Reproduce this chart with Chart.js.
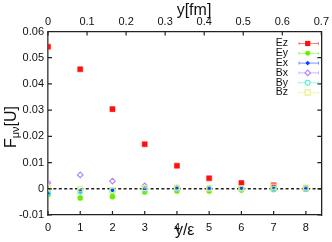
<!DOCTYPE html>
<html><head><meta charset="utf-8">
<script src="https://cdn.jsdelivr.net/npm/chart.js@4/dist/chart.umd.min.js"></script>
<style>html,body{margin:0;padding:0;background:#fff;}canvas{display:block;}</style>
</head><body>
<canvas id="c" width="332" height="242"></canvas>
<script>
const xVals = [0,1,2,3,4,5,6,7,8];
const ezVals = [0.0542,0.0456,0.0304,0.0170,0.0088,0.0040,0.0022,0.0013,0.0001];
const eyVals = [-0.0022,-0.0035,-0.0030,-0.0012,-0.0008,-0.0008,-0.0005,-0.0003,0.0000];
const exVals = [-0.0020,-0.0010,-0.0005,0.0000,0.0003,0.0003,0.0005,0.0005,0.0000];
const bxVals = [0.0023,0.0053,0.0029,0.0011,0.0003,0.0002,0.0002,0.0002,0.0001];
const byVals = [-0.0015,-0.0010,-0.0008,-0.0003,0.0000,0.0000,0.0000,0.0000,0.0000];
const bzVals = [0.0005,-0.0002,-0.0005,0.0003,0.0005,0.0002,0.0002,0.0008,0.0005];
const yTicks = [-0.01,0,0.01,0.02,0.03,0.04,0.05,0.06];
const fmTicks = [0,0.1,0.2,0.3,0.4,0.5,0.6,0.7];
const xMax = 8.48, fmMax = 0.7;

const pts = v => xVals.map((x,i)=>({x:x,y:v[i]}));
const series = [
  {label:'Ez', data:ezVals, color:'#ff1010', style:'rect', fill:true, r:3.6},
  {label:'Ey', data:eyVals, color:'#66ee00', style:'circle', fill:true, r:2.6},
  {label:'Ex', data:exVals, color:'#1040ff', style:'rectRot', fill:true, r:2.4},
  {label:'Bx', data:bxVals, color:'#b080ff', style:'rectRot', fill:false, r:2.8},
  {label:'By', data:byVals, color:'#50f0d0', style:'circle', fill:false, r:2.6},
  {label:'Bz', data:bzVals, color:'#eeee80', style:'rect', fill:false, r:3.6}
];
const datasets = [{
  type:'line', label:'zero', data:[{x:0,y:0},{x:xMax,y:0}],
  borderColor:'#222', borderWidth:1.6, borderDash:[3,2.4], pointRadius:0, fill:false, order:10
}];
series.slice().reverse().forEach(s=>{
  datasets.push({type:'scatter', label:s.label, data:pts(s.data),
    pointStyle:s.style, pointRadius:s.r, pointHoverRadius:s.r,
    backgroundColor: s.fill? s.color : 'rgba(255,255,255,0)',
    borderColor:s.color, borderWidth: s.fill?0.5:1.1});
});

const FONT = '"Liberation Sans", Arial, sans-serif';
const fmtY = v => String(Math.round(v*1000)/1000);

const decor = {
  id:'decor',
  afterDraw(chart){
    const ctx = chart.ctx, a = chart.chartArea;
    ctx.save();
    ctx.strokeStyle = '#222'; ctx.lineWidth = 1.2;
    const L = 4;
    const sy = chart.scales.y, sx = chart.scales.x, sx2 = chart.scales.x2;
    yTicks.forEach(v=>{
      const p = sy.getPixelForValue(v);
      ctx.beginPath(); ctx.moveTo(a.left,p); ctx.lineTo(a.left+L,p);
      ctx.moveTo(a.right,p); ctx.lineTo(a.right-L,p); ctx.stroke();
    });
    xVals.forEach(v=>{
      const p = sx.getPixelForValue(v);
      ctx.beginPath(); ctx.moveTo(p,a.bottom); ctx.lineTo(p,a.bottom-L); ctx.stroke();
    });
    fmTicks.forEach(v=>{
      const p = sx2.getPixelForValue(v);
      ctx.beginPath(); ctx.moveTo(p,a.top); ctx.lineTo(p,a.top+L); ctx.stroke();
    });
    ctx.fillStyle = '#111';
    ctx.font = '16px ' + FONT;
    ctx.textBaseline = 'middle'; ctx.textAlign = 'center';
    ctx.fillText('y/ε', (a.left+a.right)/2, 231);
    ctx.fillText('y[fm]', 194, 11);
    ctx.save();
    ctx.translate(12, 127); ctx.rotate(-Math.PI/2);
    ctx.textAlign = 'left';
    const f1 = '16px ' + FONT, f2 = '11px ' + FONT;
    ctx.font = f1; const wF = ctx.measureText('F').width;
    ctx.font = f2; const wS = ctx.measureText('μν').width;
    ctx.font = f1; const wU = ctx.measureText('[U]').width;
    let x0 = -(wF+wS+wU)/2;
    ctx.font = f1; ctx.fillText('F', x0, 0);
    ctx.font = f2; ctx.fillText('μν', x0+wF, 4);
    ctx.font = f1; ctx.fillText('[U]', x0+wF+wS, 0);
    ctx.restore();
    ctx.font = '10.5px ' + FONT;
    ctx.textAlign = 'right'; ctx.textBaseline = 'middle';
    series.forEach((s,i)=>{
      const yy = 43.5 + i*9.8;
      ctx.fillStyle = '#111';
      ctx.fillText(s.label, 288, yy);
      const cx = 307.7;
      ctx.strokeStyle = s.color; ctx.lineWidth = 1;
      ctx.globalAlpha = 0.55;
      ctx.beginPath(); ctx.moveTo(299,yy); ctx.lineTo(318.5,yy);
      ctx.moveTo(299,yy-1.5); ctx.lineTo(299,yy+1.5);
      ctx.moveTo(318.5,yy-1.5); ctx.lineTo(318.5,yy+1.5); ctx.stroke();
      ctx.globalAlpha = 1;
      ctx.beginPath();
      const r = s.r;
      if (s.style==='rect'){ const h=r*0.72; ctx.rect(cx-h,yy-h,2*h,2*h); }
      else if (s.style==='circle'){ ctx.arc(cx,yy,r*0.95,0,Math.PI*2); }
      else { ctx.moveTo(cx,yy-r); ctx.lineTo(cx+r,yy); ctx.lineTo(cx,yy+r); ctx.lineTo(cx-r,yy); ctx.closePath(); }
      if (s.fill){ ctx.fillStyle = s.color; ctx.fill(); }
      else { ctx.fillStyle='#fff'; ctx.fill(); ctx.lineWidth=1.1; ctx.stroke(); }
    });
    ctx.restore();
  }
};

const tickFont = {family: FONT, size: 11};
new Chart(document.getElementById('c'), {
  data:{datasets:datasets},
  options:{
    responsive:false, animation:false, devicePixelRatio:1,
    layout:{padding:0},
    plugins:{legend:{display:false}, tooltip:{enabled:false}},
    scales:{
      x:{type:'linear', position:'bottom', min:0, max:xMax,
        grid:{display:false, drawTicks:false},
        border:{display:true, color:'#222', width:1.3},
        ticks:{stepSize:1, includeBounds:false, color:'#111', font:tickFont, padding:6, maxRotation:0,
          callback:v=>String(v)},
        afterFit(s){ s.height = 27; }},
      x2:{type:'linear', position:'top', min:0, max:fmMax,
        grid:{display:false, drawTicks:false},
        border:{display:true, color:'#222', width:1.3},
        ticks:{stepSize:0.1, includeBounds:false, color:'#111', font:tickFont, padding:3, maxRotation:0,
          callback:v=>String(Math.round(v*10)/10)},
        afterFit(s){ s.height = 31.5; }},
      y:{type:'linear', position:'left', min:-0.01, max:0.06,
        grid:{display:false, drawTicks:false},
        border:{display:true, color:'#555', width:1.6},
        ticks:{stepSize:0.01, includeBounds:false, color:'#111', font:tickFont, padding:4,
          callback:v=>fmtY(v)},
        afterFit(s){ s.width = 48; }},
      y2:{type:'linear', position:'right', min:-0.01, max:0.06,
        grid:{display:false, drawTicks:false},
        border:{display:true, color:'#222', width:1.3},
        ticks:{display:false},
        afterFit(s){ s.width = 9.3; }}
    }
  },
  plugins:[decor]
});
</script>
</body></html>
